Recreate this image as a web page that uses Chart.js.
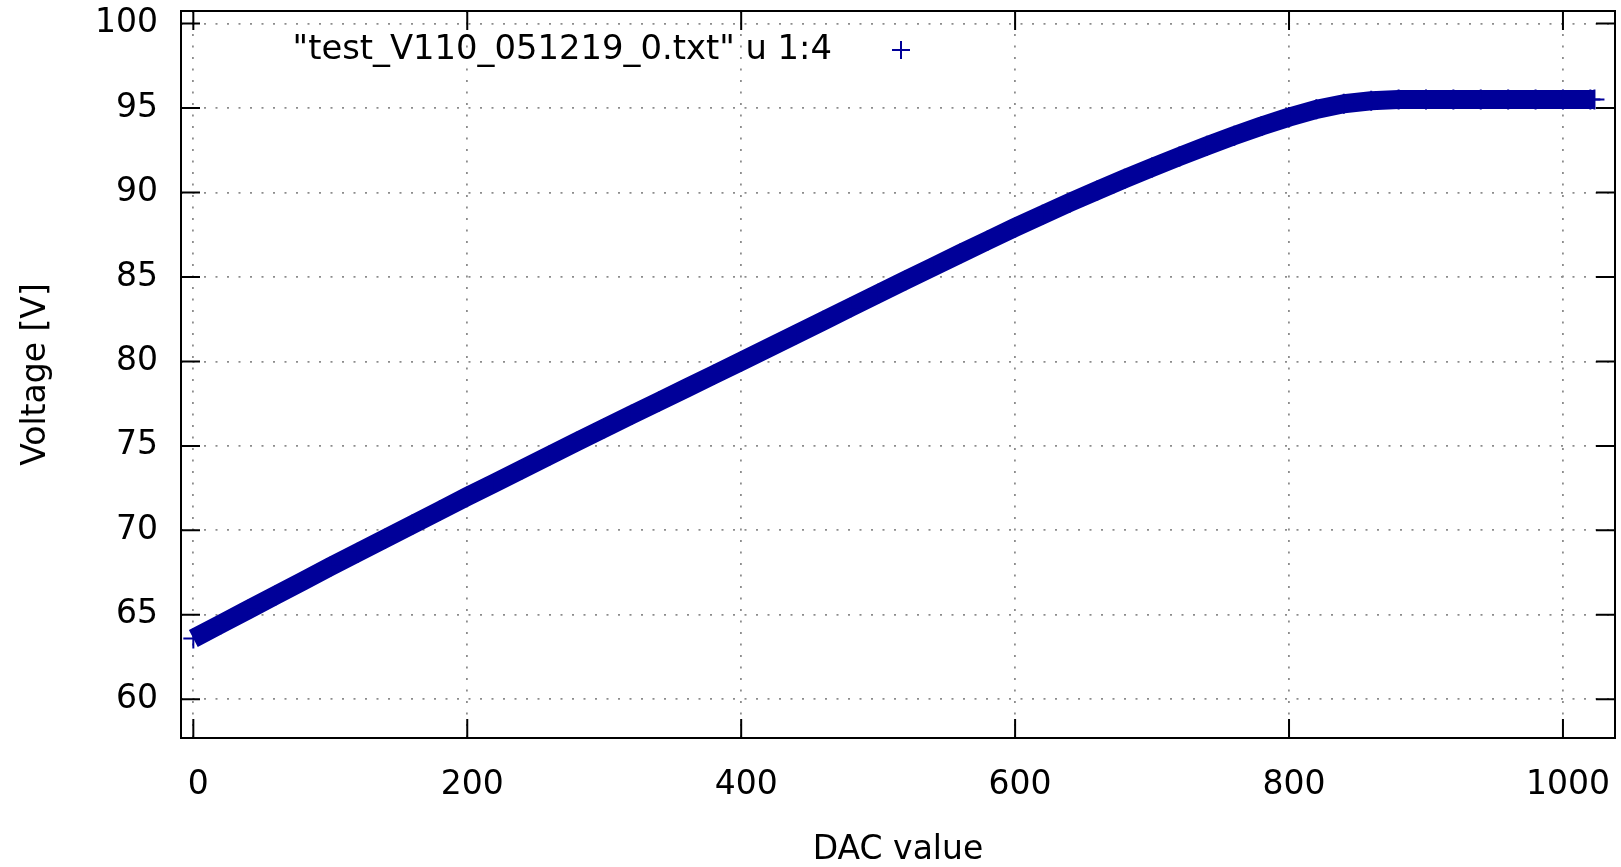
<!DOCTYPE html>
<html>
<head>
<meta charset="utf-8">
<title>DAC value vs Voltage</title>
<script src="https://cdn.jsdelivr.net/npm/chart.js@4.4.0/dist/chart.umd.min.js"></script>
<style>
  html, body { margin: 0; padding: 0; background: #fff; }
  #wrap { width: 1621px; height: 867px; }
</style>
</head>
<body>
<div id="wrap"><canvas id="myChart" width="1621" height="867"></canvas></div>
<script>
// DAC setting
const dacValues = [
  0, 20, 40, 60, 80, 100, 120, 140, 160, 180,
  200, 220, 240, 260, 280, 300, 320, 340, 360, 380,
  400, 420, 440, 460, 480, 500, 520, 540, 560, 580,
  600, 620, 640, 660, 680, 700, 720, 740, 760, 780,
  800, 820, 840, 860, 880, 900, 920, 940, 960, 980,
  1000, 1020, 1023
];
// output voltage [V] at each DAC setting
const voltages = [
  63.60, 64.45, 65.30, 66.15, 67.00, 67.85, 68.68, 69.51, 70.34, 71.17,
  72.00, 72.81, 73.62, 74.43, 75.24, 76.05, 76.84, 77.63, 78.42, 79.21,
  80.00, 80.80, 81.60, 82.40, 83.20, 84.00, 84.80, 85.59, 86.38, 87.16,
  87.93, 88.68, 89.41, 90.12, 90.81, 91.48, 92.13, 92.76, 93.36, 93.93,
  94.46, 94.92, 95.25, 95.43, 95.50, 95.50, 95.50, 95.50, 95.50, 95.50,
  95.50, 95.50, 95.50
];
const xTicks = [0, 200, 400, 600, 800, 1000];
const yTicks = [60, 65, 70, 75, 80, 85, 90, 95, 100];
const seriesLabel = '"test_V110_051219_0.txt" u 1:4';

const blue = "#000099";
const fontFamily = '"DejaVu Sans", "Liberation Sans", sans-serif';

Chart.defaults.font.family = fontFamily;
Chart.defaults.font.size = 33;
Chart.defaults.color = "#000";

// gnuplot style: full frame, ticks pointing inwards on all sides, key inside
const gnuplotFrame = {
  id: "gnuplotFrame",
  afterDraw(chart) {
    const { ctx, chartArea: a, scales } = chart;
    const len = 19;
    ctx.save();
    ctx.strokeStyle = "#000";
    ctx.lineWidth = 2;
    ctx.beginPath();
    scales.x.ticks.forEach((t) => {
      const px = scales.x.getPixelForValue(t.value);
      ctx.moveTo(px, a.bottom);
      ctx.lineTo(px, a.bottom - len);
      ctx.moveTo(px, a.top);
      ctx.lineTo(px, a.top + len);
    });
    scales.y.ticks.forEach((t) => {
      const py = scales.y.getPixelForValue(t.value);
      ctx.moveTo(a.left, py);
      ctx.lineTo(a.left + len, py);
      ctx.moveTo(a.right, py);
      ctx.lineTo(a.right - len, py);
    });
    ctx.stroke();
    ctx.strokeRect(a.left, a.top, a.right - a.left, a.bottom - a.top);

    // key
    const ky = a.top + 39;
    ctx.font = "33.8px " + fontFamily;
    ctx.fillStyle = "#000";
    ctx.textAlign = "right";
    ctx.textBaseline = "middle";
    ctx.fillText(seriesLabel, a.left + 651, ky);
    const kx = a.left + 720;
    ctx.strokeStyle = blue;
    ctx.lineWidth = 2;
    ctx.beginPath();
    ctx.moveTo(kx - 9, ky);
    ctx.lineTo(kx + 9, ky);
    ctx.moveTo(kx, ky - 9);
    ctx.lineTo(kx, ky + 9);
    ctx.stroke();
    ctx.restore();
  },
};

const gridDots = {
  display: true,
  color: "#8c8c8c",
  lineWidth: 1.8,
  drawTicks: false,
};

new Chart(document.getElementById("myChart"), {
  type: "line",
  data: {
    datasets: [
      {
        label: seriesLabel,
        data: dacValues.map((d, i) => ({ x: d, y: voltages[i] })),
        borderColor: blue,
        backgroundColor: blue,
        borderWidth: 19,
        borderCapStyle: "butt",
        borderJoinStyle: "round",
        tension: 0,
        fill: false,
        pointStyle: "cross",
        pointRadius: 10,
        pointHoverRadius: 10,
        pointBorderWidth: 2,
        pointBorderColor: blue,
      },
    ],
  },
  options: {
    responsive: false,
    animation: false,
    devicePixelRatio: 1,
    layout: {
      autoPadding: false,
      padding: { top: 11, right: 6, left: 0, bottom: 0 },
    },
    plugins: {
      legend: { display: false },
      tooltip: { enabled: false },
    },
    scales: {
      x: {
        type: "linear",
        min: -9,
        max: 1038,
        afterBuildTicks: (scale) => {
          scale.ticks = xTicks.map((v) => ({ value: v }));
        },
        afterFit: (scale) => {
          scale.height = 129;
          scale.paddingLeft = 0;
          scale.paddingRight = 0;
        },
        ticks: {
          padding: 28,
          labelOffset: 5,
          maxRotation: 0,
          callback: (v) => String(v),
        },
        grid: gridDots,
        border: { display: false, dash: [2, 9.5] },
        title: {
          display: true,
          text: "DAC value",
          font: { lineHeight: 1.0 },
          padding: { top: 0, bottom: 0 },
        },
      },
      y: {
        type: "linear",
        min: 57.71,
        max: 100.74,
        afterBuildTicks: (scale) => {
          scale.ticks = yTicks.map((v) => ({ value: v }));
        },
        afterFit: (scale) => {
          scale.width = 181;
          scale.paddingTop = 0;
          scale.paddingBottom = 0;
        },
        ticks: { padding: 23, callback: (v) => String(v) },
        grid: gridDots,
        border: { display: false, dash: [2, 9.5] },
        title: {
          display: true,
          text: "Voltage [V]",
          padding: { top: 17, bottom: 0 },
        },
      },
    },
  },
  plugins: [gnuplotFrame],
});
</script>
</body>
</html>
